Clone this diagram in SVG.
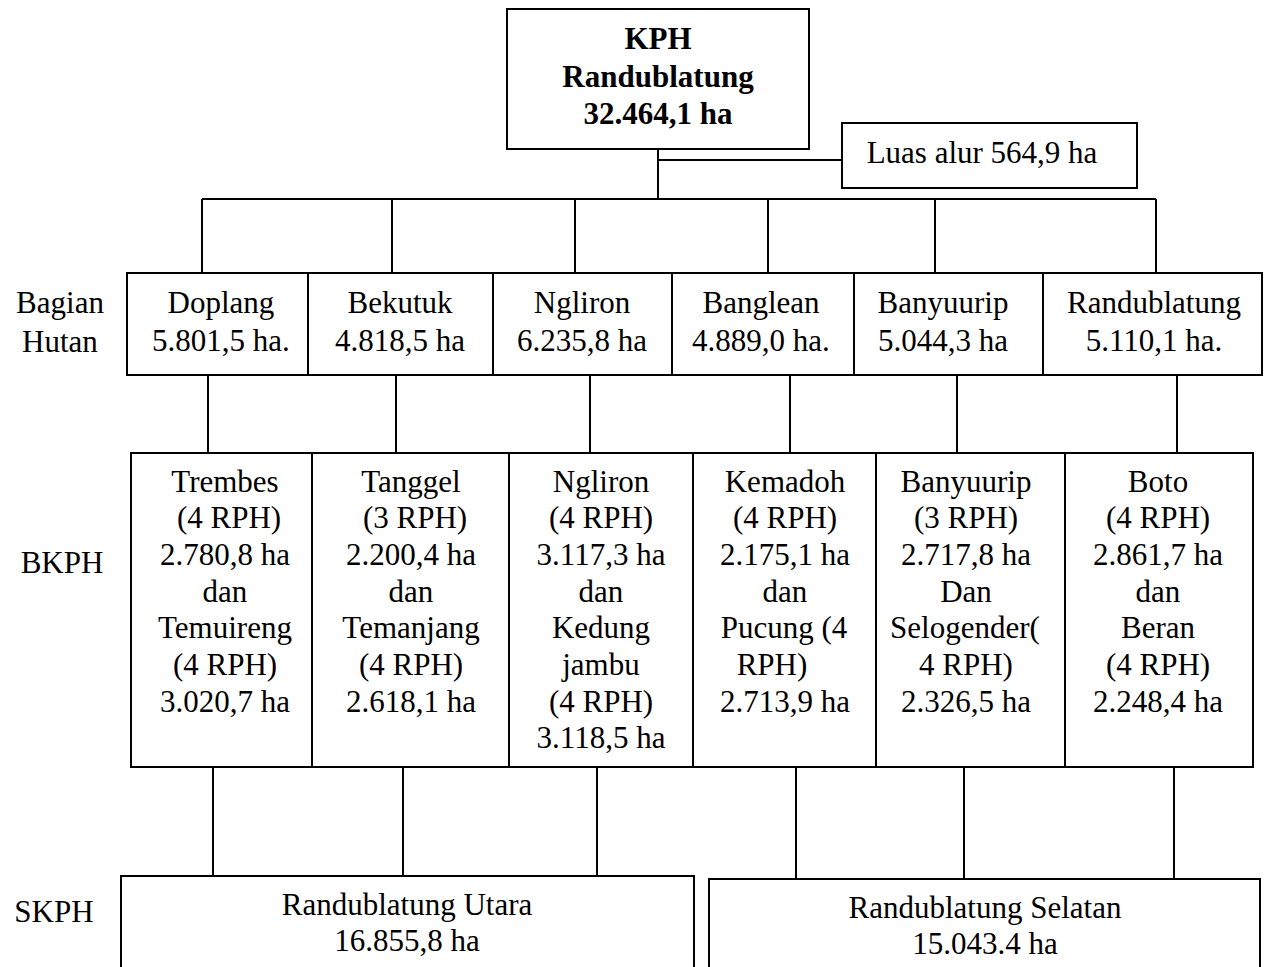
<svg xmlns="http://www.w3.org/2000/svg" width="1268" height="967" viewBox="0 0 1268 967">
<style>
.bx{fill:#fff;stroke:#000;stroke-width:2}
.ln{fill:none;stroke:#000;stroke-width:2}
text{font-family:"Liberation Serif","Times New Roman",serif;font-size:31px;fill:#000;text-anchor:middle}
.b{font-weight:bold}
</style>
<rect width="1268" height="967" fill="#fff"/>
<g id="connectors">
<path class="ln" d="M658 149V199M658 160H842M202 199H1156M202 199V273M392 199V273M575 199V273M768 199V273M935 199V273M1156 199V273"/>
<path class="ln" d="M208 363V453M396 361V453M590 361V453M790 361V453M957 361V453M1177 363V453"/>
<path class="ln" d="M213 767V876M403 767V876M597 767V876M796 767V879M964 767V879M1174 767V879"/>
</g>
<g id="labels">
<text x="60" y="313">Bagian</text>
<text x="60" y="352">Hutan</text>
<text x="62" y="573">BKPH</text>
<text x="54" y="922">SKPH</text>
</g>
<g id="kph"><rect class="bx" x="507" y="9" width="302" height="140"/>
<text class="b" x="658" y="49">KPH</text><text class="b" x="658" y="87">Randublatung</text><text class="b" x="658" y="124">32.464,1 ha</text></g>
<g id="luas"><rect class="bx" x="842" y="123" width="295" height="65"/><text x="982" y="163">Luas alur 564,9 ha</text></g>
<g id="doplang"><rect class="bx" x="127" y="273" width="181" height="102"/><text x="221" y="313">Doplang</text><text x="221" y="351">5.801,5 ha.</text></g>
<g id="bekutuk"><rect class="bx" x="308" y="273" width="185" height="102"/><text x="400" y="313">Bekutuk</text><text x="400" y="351">4.818,5 ha</text></g>
<g id="ngliron"><rect class="bx" x="493" y="273" width="179" height="102"/><text x="582" y="313">Ngliron</text><text x="582" y="351">6.235,8 ha</text></g>
<g id="banglean"><rect class="bx" x="672" y="273" width="182" height="102"/><text x="761" y="313">Banglean</text><text x="761" y="351">4.889,0 ha.</text></g>
<g id="banyuurip"><rect class="bx" x="854" y="273" width="189" height="102"/><text x="943" y="313">Banyuurip</text><text x="943" y="351">5.044,3 ha</text></g>
<g id="randublatung"><rect class="bx" x="1043" y="273" width="219" height="102"/><text x="1154" y="313">Randublatung</text><text x="1154" y="351">5.110,1 ha.</text></g>
<g id="bkph-trembes"><rect class="bx" x="131" y="453" width="181" height="314"/>
<text x="225" y="492">Trembes</text><text x="229" y="528">(4 RPH)</text><text x="225" y="565">2.780,8 ha</text><text x="225" y="602">dan</text><text x="225" y="638">Temuireng</text><text x="225" y="675">(4 RPH)</text><text x="225" y="712">3.020,7 ha</text></g>
<g id="bkph-tanggel"><rect class="bx" x="312" y="453" width="197" height="314"/>
<text x="411" y="492">Tanggel</text><text x="415" y="528">(3 RPH)</text><text x="411" y="565">2.200,4 ha</text><text x="411" y="602">dan</text><text x="411" y="638">Temanjang</text><text x="411" y="675">(4 RPH)</text><text x="411" y="712">2.618,1 ha</text></g>
<g id="bkph-ngliron"><rect class="bx" x="509" y="453" width="184" height="314"/>
<text x="601" y="492">Ngliron</text><text x="601" y="528">(4 RPH)</text><text x="601" y="565">3.117,3 ha</text><text x="601" y="602">dan</text><text x="601" y="638">Kedung</text><text x="601" y="675">jambu</text><text x="601" y="712">(4 RPH)</text><text x="601" y="748">3.118,5 ha</text></g>
<g id="bkph-kemadoh"><rect class="bx" x="693" y="453" width="183" height="314"/>
<text x="785" y="492">Kemadoh</text><text x="785" y="528">(4 RPH)</text><text x="785" y="565">2.175,1 ha</text><text x="785" y="602">dan</text><text x="784" y="638">Pucung (4</text><text x="772" y="675">RPH)</text><text x="785" y="712">2.713,9 ha</text></g>
<g id="bkph-banyuurip"><rect class="bx" x="876" y="453" width="189" height="314"/>
<text x="966" y="492">Banyuurip</text><text x="966" y="528">(3 RPH)</text><text x="966" y="565">2.717,8 ha</text><text x="966" y="602">Dan</text><text x="965" y="638">Selogender(</text><text x="966" y="675">4 RPH)</text><text x="966" y="712">2.326,5 ha</text></g>
<g id="bkph-boto"><rect class="bx" x="1065" y="453" width="188" height="314"/>
<text x="1158" y="492">Boto</text><text x="1158" y="528">(4 RPH)</text><text x="1158" y="565">2.861,7 ha</text><text x="1158" y="602">dan</text><text x="1158" y="638">Beran</text><text x="1158" y="675">(4 RPH)</text><text x="1158" y="712">2.248,4 ha</text></g>
<g id="skph-utara"><rect class="bx" x="121" y="876" width="573" height="110"/><text x="407" y="915">Randublatung Utara</text><text x="407" y="951">16.855,8 ha</text></g>
<g id="skph-selatan"><rect class="bx" x="709" y="879" width="551" height="110"/><text x="985" y="918">Randublatung Selatan</text><text x="985" y="954">15.043.4 ha</text></g>
</svg>
